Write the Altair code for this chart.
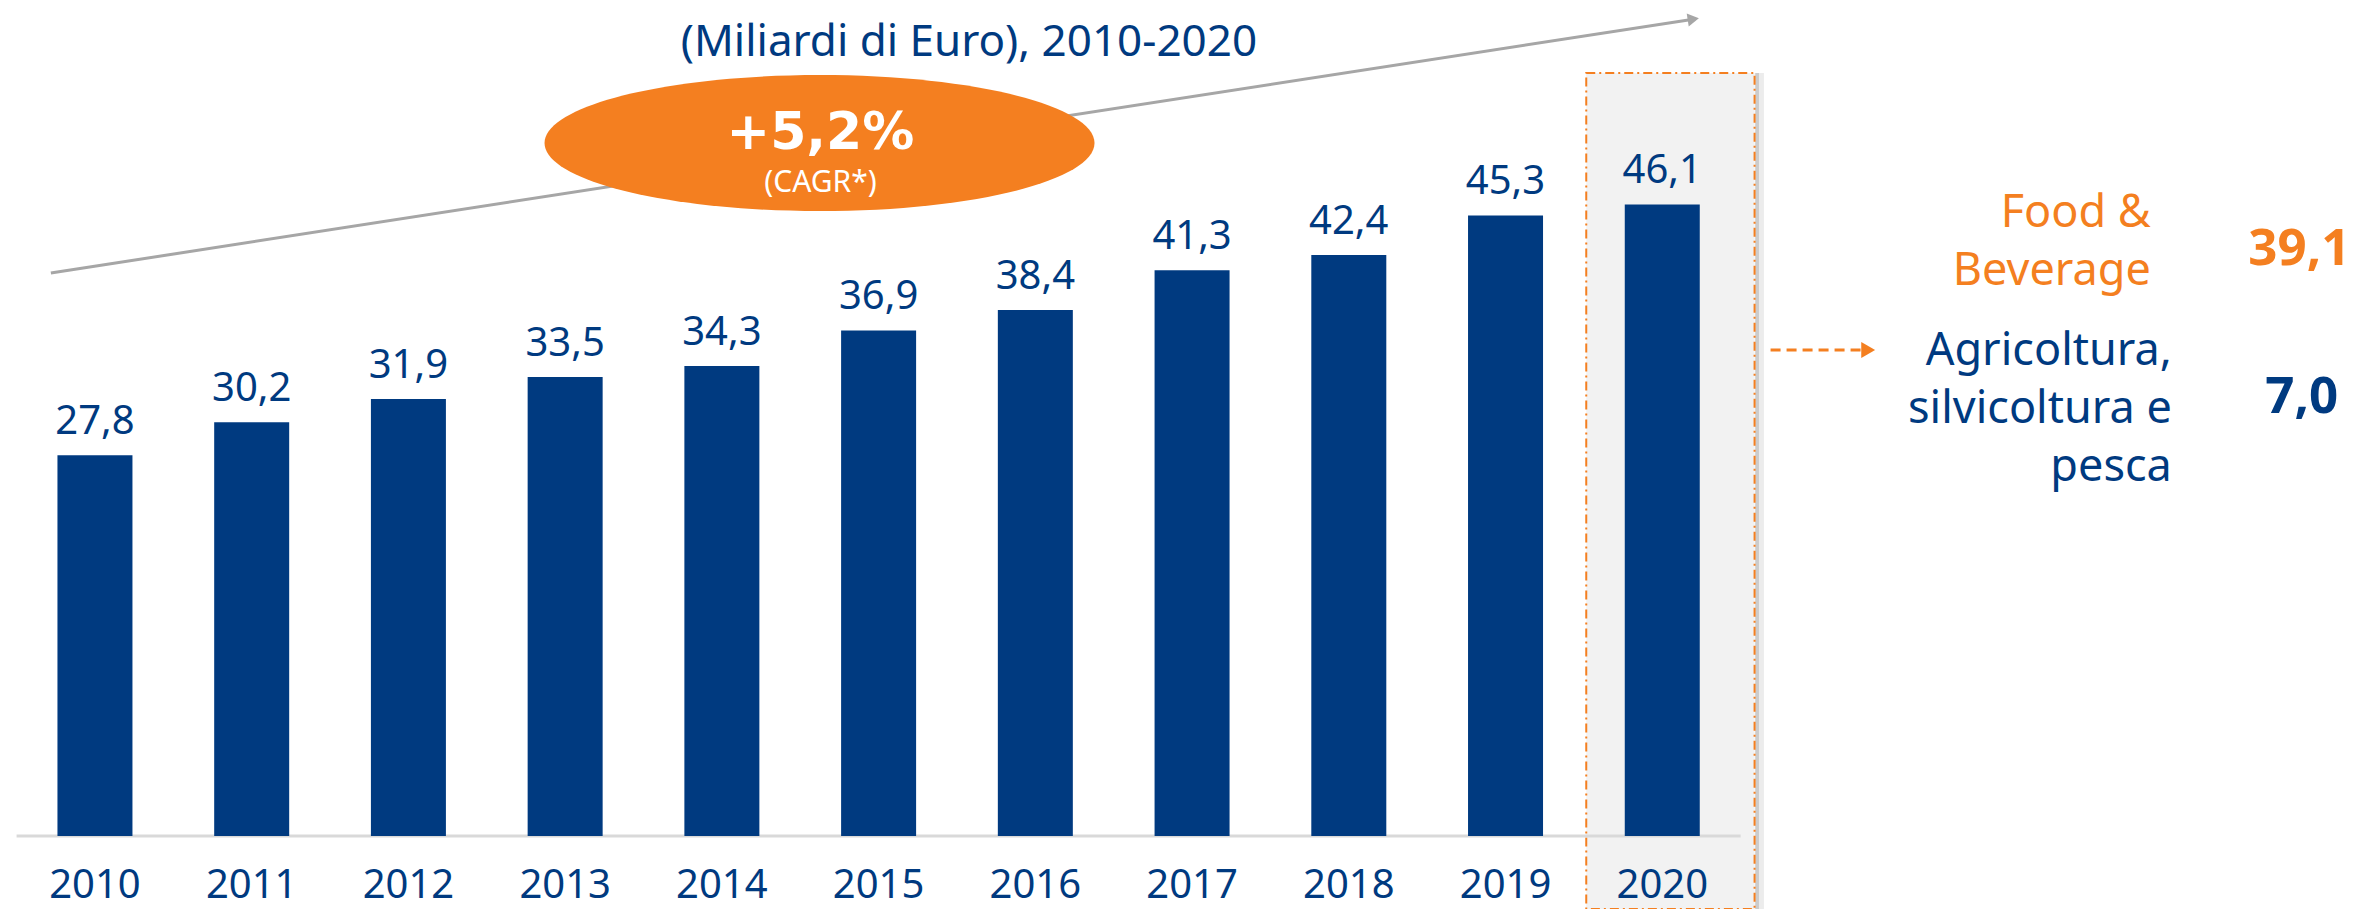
import altair as alt
import pandas as pd

# ---------------- data ----------------
years = [2010, 2011, 2012, 2013, 2014, 2015, 2016, 2017, 2018, 2019, 2020]
values = [27.8, 30.2, 31.9, 33.5, 34.3, 36.9, 38.4, 41.3, 42.4, 45.3, 46.1]
title_text = "(Miliardi di Euro), 2010-2020"
cagr_value = "+5,2%"
cagr_note = "(CAGR*)"
split_labels = ["Food &\nBeverage", "Agricoltura,\nsilvicoltura e\npesca"]
split_values = ["39,1", "7,0"]
highlight_year = 2020

# ---------------- style ----------------
NAVY = "#003A80"
ORANGE = "#F47F20"
FONT = "Noto Sans"
BOLD_FONT = "DejaVu Sans"
W, H = 2353, 901
X_DOMAIN = [2009.4771, 2024.4263]
Y_DOMAIN = [-5.328, 60.438]
YEAR_LABEL_Y = -4.55
xs = alt.Scale(domain=X_DOMAIN, nice=False, zero=False)
ys = alt.Scale(domain=Y_DOMAIN, nice=False, zero=False)


def X(f):
    return alt.X(f, type="quantitative", scale=xs, axis=None)


def Y(f):
    return alt.Y(f, type="quantitative", scale=ys, axis=None)


bars_df = pd.DataFrame({"year": years, "value": values})
base = alt.Chart(bars_df).transform_calculate(
    zero="0",
    ly=str(YEAR_LABEL_Y),
    label="replace(format(datum.value, '.1f'), '.', ',')",
)

# highlight box around the last year
hl_df = pd.DataFrame({"x": [highlight_year - 0.485], "x2": [highlight_year + 0.589],
                      "y": [55.69], "y2": [Y_DOMAIN[0]]})
shadow1 = alt.Chart(hl_df).transform_calculate(a="datum.x2 + 0.004", b="datum.x2 + 0.028").mark_rect(
    color="#9a9a9a", opacity=0.5).encode(x=X("a"), x2="b:Q", y=Y("y"), y2="y2:Q")
shadow2 = alt.Chart(hl_df).transform_calculate(a="datum.x2 + 0.028", b="datum.x2 + 0.06").mark_rect(
    color="#d4d4d4", opacity=0.45).encode(x=X("a"), x2="b:Q", y=Y("y"), y2="y2:Q")
highlight = alt.Chart(hl_df).mark_rect(
    fill="#F2F2F2", stroke=ORANGE, strokeWidth=2, strokeDash=[9, 4, 2, 4]
).encode(x=X("x"), x2="x2:Q", y=Y("y"), y2="y2:Q")

# baseline
baseline_df = pd.DataFrame({"x": [years[0] - 0.5], "x2": [years[-1] + 0.5], "y": [0]})
baseline = alt.Chart(baseline_df).mark_rule(color="#D9D9D9", strokeWidth=3).encode(
    x=X("x"), x2="x2:Q", y=Y("y"))

bars = base.mark_bar(size=75, color=NAVY).encode(x=X("year"), y=Y("value"), y2="zero:Q")

bar_labels = base.mark_text(font=FONT, fontSize=40, color=NAVY, baseline="alphabetic",
                            align="center", dy=-21).encode(x=X("year"), y=Y("value"), text="label:N")

year_labels = base.mark_text(font=FONT, fontSize=40, color=NAVY, baseline="alphabetic",
                             align="center").encode(x=X("year"), y=Y("ly"), text="year:N")

# trend arrow
trend_df = pd.DataFrame({"x": [2009.7186], "y": [41.095], "x2": [2020.198], "y2": [59.624]})
trend = alt.Chart(trend_df).mark_rule(color="#A6A6A6", strokeWidth=3).encode(
    x=X("x"), y=Y("y"), x2="x2:Q", y2="y2:Q")
trend_head = alt.Chart(trend_df).mark_point(
    shape="triangle-right", filled=True, size=170, color="#A6A6A6", opacity=1, angle=351.24
).encode(x=X("x2"), y=Y("y2"))

# CAGR ellipse (bezier approximation of an ellipse, ratio 136/550)
ELLIPSE_PATH = ("M -1 0 C -1 -0.1366 -0.5523 -0.2473 0 -0.2473 "
                "C 0.5523 -0.2473 1 -0.1366 1 0 "
                "C 1 0.1366 0.5523 0.2473 0 0.2473 "
                "C -0.5523 0.2473 -1 0.1366 -1 0 Z")
ell_df = pd.DataFrame({"x": [2014.623], "y": [50.58]})
ellipse = alt.Chart(ell_df).mark_point(
    shape=ELLIPSE_PATH, filled=True, size=550 * 550, color=ORANGE, opacity=1
).encode(x=X("x"), y=Y("y"))

cagr_df = pd.DataFrame({"x": [2014.629, 2014.629], "y": [50.12, 47.03],
                        "t": [cagr_value, cagr_note], "kind": ["v", "n"]})
cagr_v = alt.Chart(cagr_df).transform_filter("datum.kind == 'v'").mark_text(
    font=BOLD_FONT, fontWeight="bold", fontSize=52, color="white", baseline="alphabetic", align="center"
).encode(x=X("x"), y=Y("y"), text="t:N")
cagr_n = alt.Chart(cagr_df).transform_filter("datum.kind == 'n'").mark_text(
    font=FONT, fontSize=30, color="white", baseline="alphabetic", align="center"
).encode(x=X("x"), y=Y("y"), text="t:N")

# title
title_df = pd.DataFrame({"x": [2015.576], "y": [56.95], "t": [title_text]})
title = alt.Chart(title_df).mark_text(
    font=FONT, fontSize=44, color=NAVY, baseline="alphabetic", align="center"
).encode(x=X("x"), y=Y("y"), text="t:N")

# dashed orange arrow
oarrow_df = pd.DataFrame({"x": [2020.691], "x2": [2021.28], "y": [35.47], "hx": [2021.314]})
oarrow = alt.Chart(oarrow_df).mark_rule(color=ORANGE, strokeWidth=3, strokeDash=[10, 6]).encode(
    x=X("x"), x2="x2:Q", y=Y("y"))
oarrow_head = alt.Chart(oarrow_df).mark_point(
    shape="triangle-right", filled=True, size=256, color=ORANGE, opacity=1
).encode(x=X("hx"), y=Y("y"))

# split of 2020 value
split_df = pd.DataFrame({
    "label": split_labels, "value": split_values,
    "lx": [2023.117, 2023.251], "ly": [44.45, 34.38],
    "vx": [2024.065, 2024.08], "vy": [41.68, 30.88],
    "col": [ORANGE, NAVY],
})
split_lab = alt.Chart(split_df).mark_text(
    font=FONT, fontSize=45, baseline="alphabetic", align="right", lineBreak="\n", lineHeight=58
).encode(x=X("lx"), y=Y("ly"), text="label:N", color=alt.Color("col:N", scale=None))
split_val = alt.Chart(split_df).mark_text(
    font="Noto Sans", fontWeight="bold", fontSize=51, baseline="alphabetic", align="center"
).encode(x=X("vx"), y=Y("vy"), text="value:N", color=alt.Color("col:N", scale=None))

chart = alt.layer(
    shadow2, shadow1, highlight, baseline, bars, bar_labels, year_labels,
    trend, trend_head, ellipse, cagr_v, cagr_n, title, oarrow, oarrow_head,
    split_lab, split_val,
).properties(
    width=W, height=H, padding=0, autosize=alt.AutoSizeParams(type="none"), background="white"
).configure_view(stroke=None)

chart.save("out.html", embed_options={"renderer": "svg", "actions": False})
